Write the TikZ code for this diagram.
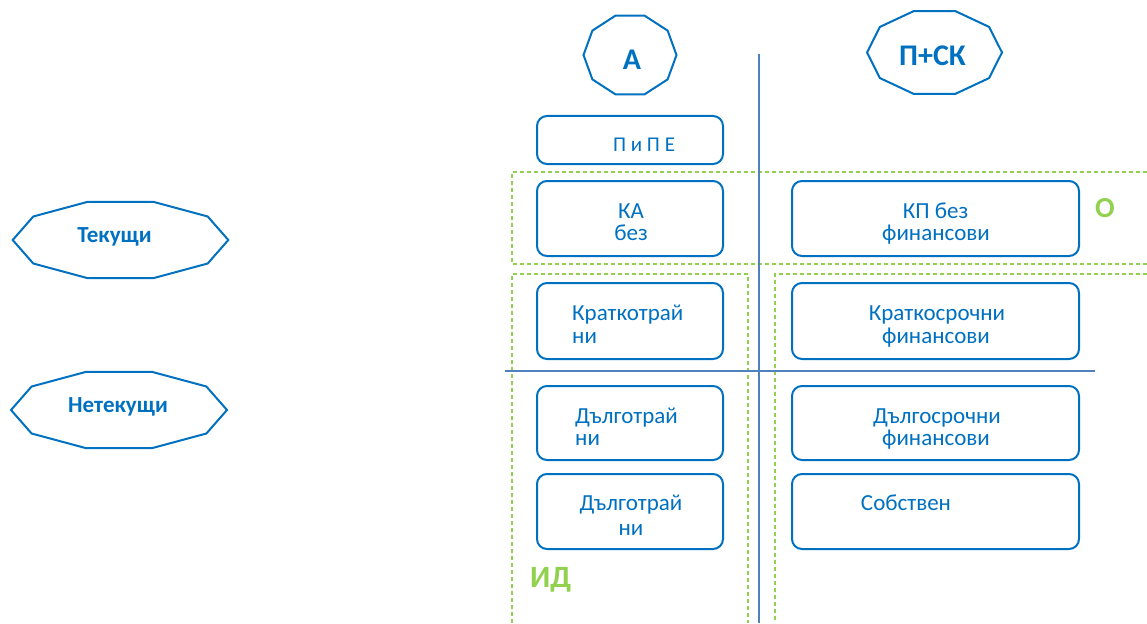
\documentclass[tikz,border=0pt]{standalone}
\usepackage{fontspec}
\setmainfont{Carlito}
\definecolor{tblue}{HTML}{0070C0}
\definecolor{lblue}{HTML}{4F81BD}
\definecolor{lgreen}{HTML}{92D050}
\tikzset{
  rbox/.style={draw=tblue, line width=2pt, rounded corners=10pt, inner sep=0pt},
  lbox/.style={rbox, minimum width=186pt},
  wbox/.style={rbox, minimum width=287pt},
  btxt/.style={text=tblue, font=\fontsize{23}{25}\selectfont, inner sep=0pt, align=left},
  stxt/.style={text=tblue, font=\fontsize{21}{23}\selectfont, inner sep=0pt},
  dectxt/.style={text=tblue, font=\bfseries\fontsize{30}{32}\selectfont, inner sep=0pt},
  sidetxt/.style={text=tblue, font=\bfseries\fontsize{23}{25}\selectfont, inner sep=0pt},
  grn/.style={text=lgreen, font=\bfseries\fontsize{29}{31}\selectfont, inner sep=0pt},
  decline/.style={draw=tblue, line width=2pt},
  dashbox/.style={draw=lgreen, line width=1.5pt, dash pattern=on 4pt off 3pt},
  axis/.style={draw=lblue, line width=2pt}
}
\newcommand{\mydecagon}[3]{%
  \draw[decline] ([shift={(0:#2 and #3)}]#1.center)
    \foreach \a in {36,72,...,324} { -- ([shift={(\a:#2 and #3)}]#1.center) } -- cycle;}
\begin{document}
\begin{tikzpicture}[x=1pt,y=-1pt]
\useasboundingbox (0,0) rectangle (1147,623);
% decagon centres
\coordinate (cA) at (630,55);
\coordinate (cP) at (934.5,52.5);
\coordinate (cT) at (120.5,240);
\coordinate (cN) at (119,410);
\mydecagon{cA}{46.5}{41.5}
\mydecagon{cP}{67.5}{43.5}
\mydecagon{cT}{107.8}{40}
\mydecagon{cN}{108}{40}
\node[dectxt] (tA) at (632,60) {А};
\node[dectxt] (tP) at (932.5,56) {П+СК};
\node[sidetxt, anchor=base] (tT) at (114.5,242) {Текущи};
\node[sidetxt, anchor=base] (tN) at (118,412) {Нетекущи};

% green dashed groups
\coordinate (o1) at (1147,172); \coordinate (o2) at (512,172);
\coordinate (o3) at (512,264);  \coordinate (o4) at (1147,264);
\draw[dashbox] (o1) -- (o2) -- (o3) -- (o4);
\coordinate (i1) at (512,623); \coordinate (i2) at (512,274);
\coordinate (i3) at (748,274); \coordinate (i4) at (748,623);
\draw[dashbox] (i1) -- (i2) -- (i3) -- (i4);
\coordinate (r1) at (1147,274); \coordinate (r2) at (775,274);
\coordinate (r3) at (775,623);
\draw[dashbox] (r1) -- (r2) -- (r3);

% axes
\coordinate (vt) at (759,54); \coordinate (vb) at (759,623);
\coordinate (hl) at (505,371); \coordinate (hr) at (1095,371);
\draw[axis] (vt) -- (vb);
\draw[axis] (hl) -- (hr);

% left boxes
\node[lbox, minimum height=48pt] (ppe) at (630,140) {};
\node[stxt, anchor=base] (ppet) at (644,151) {П и П Е};
\node[lbox, minimum height=75pt] (ka) at (630,218.5) {};
\node[btxt, anchor=base] (kat1) at (631,218) {КА};
\node[btxt, anchor=base] (kat2) at (631,240) {без};
\node[lbox, minimum height=76pt] (kr) at (630,321) {};
\node[btxt, anchor=base west] (krt1) at (572,320) {Краткотрай};
\node[btxt, anchor=base west] (krt2) at (572,343) {ни};
\node[lbox, minimum height=74pt] (d1) at (630,423) {};
\node[btxt, anchor=base west] (d1t1) at (575,423) {Дълготрай};
\node[btxt, anchor=base west] (d1t2) at (575,445) {ни};
\node[lbox, minimum height=75pt] (d2) at (630,511.5) {};
\node[btxt, anchor=base] (d2t1) at (631,510) {Дълготрай};
\node[btxt, anchor=base] (d2t2) at (631,535) {ни};

% right boxes
\node[wbox, minimum height=75pt] (kp) at (935.5,218.5) {};
\node[btxt, anchor=base] (kpt1) at (935.5,218) {КП без};
\node[btxt, anchor=base] (kpt2) at (936,240) {финансови};
\node[wbox, minimum height=76pt] (ks) at (935.5,321) {};
\node[btxt, anchor=base] (kst1) at (937,320) {Краткосрочни};
\node[btxt, anchor=base] (kst2) at (936,343) {финансови};
\node[wbox, minimum height=74pt] (ds) at (935.5,423) {};
\node[btxt, anchor=base] (dst1) at (937,423) {Дългосрочни};
\node[btxt, anchor=base] (dst2) at (936,445) {финансови};
\node[wbox, minimum height=75pt] (sb) at (935.5,511.5) {};
\node[btxt, anchor=base] (sbt) at (906,510) {Собствен};

% green labels
\node[grn] (lo) at (1105,208) {О};
\node[grn, anchor=base west, font=\bfseries\fontsize{31}{33}\selectfont] (lid) at (530,587) {ИД};
\end{tikzpicture}
\end{document}
